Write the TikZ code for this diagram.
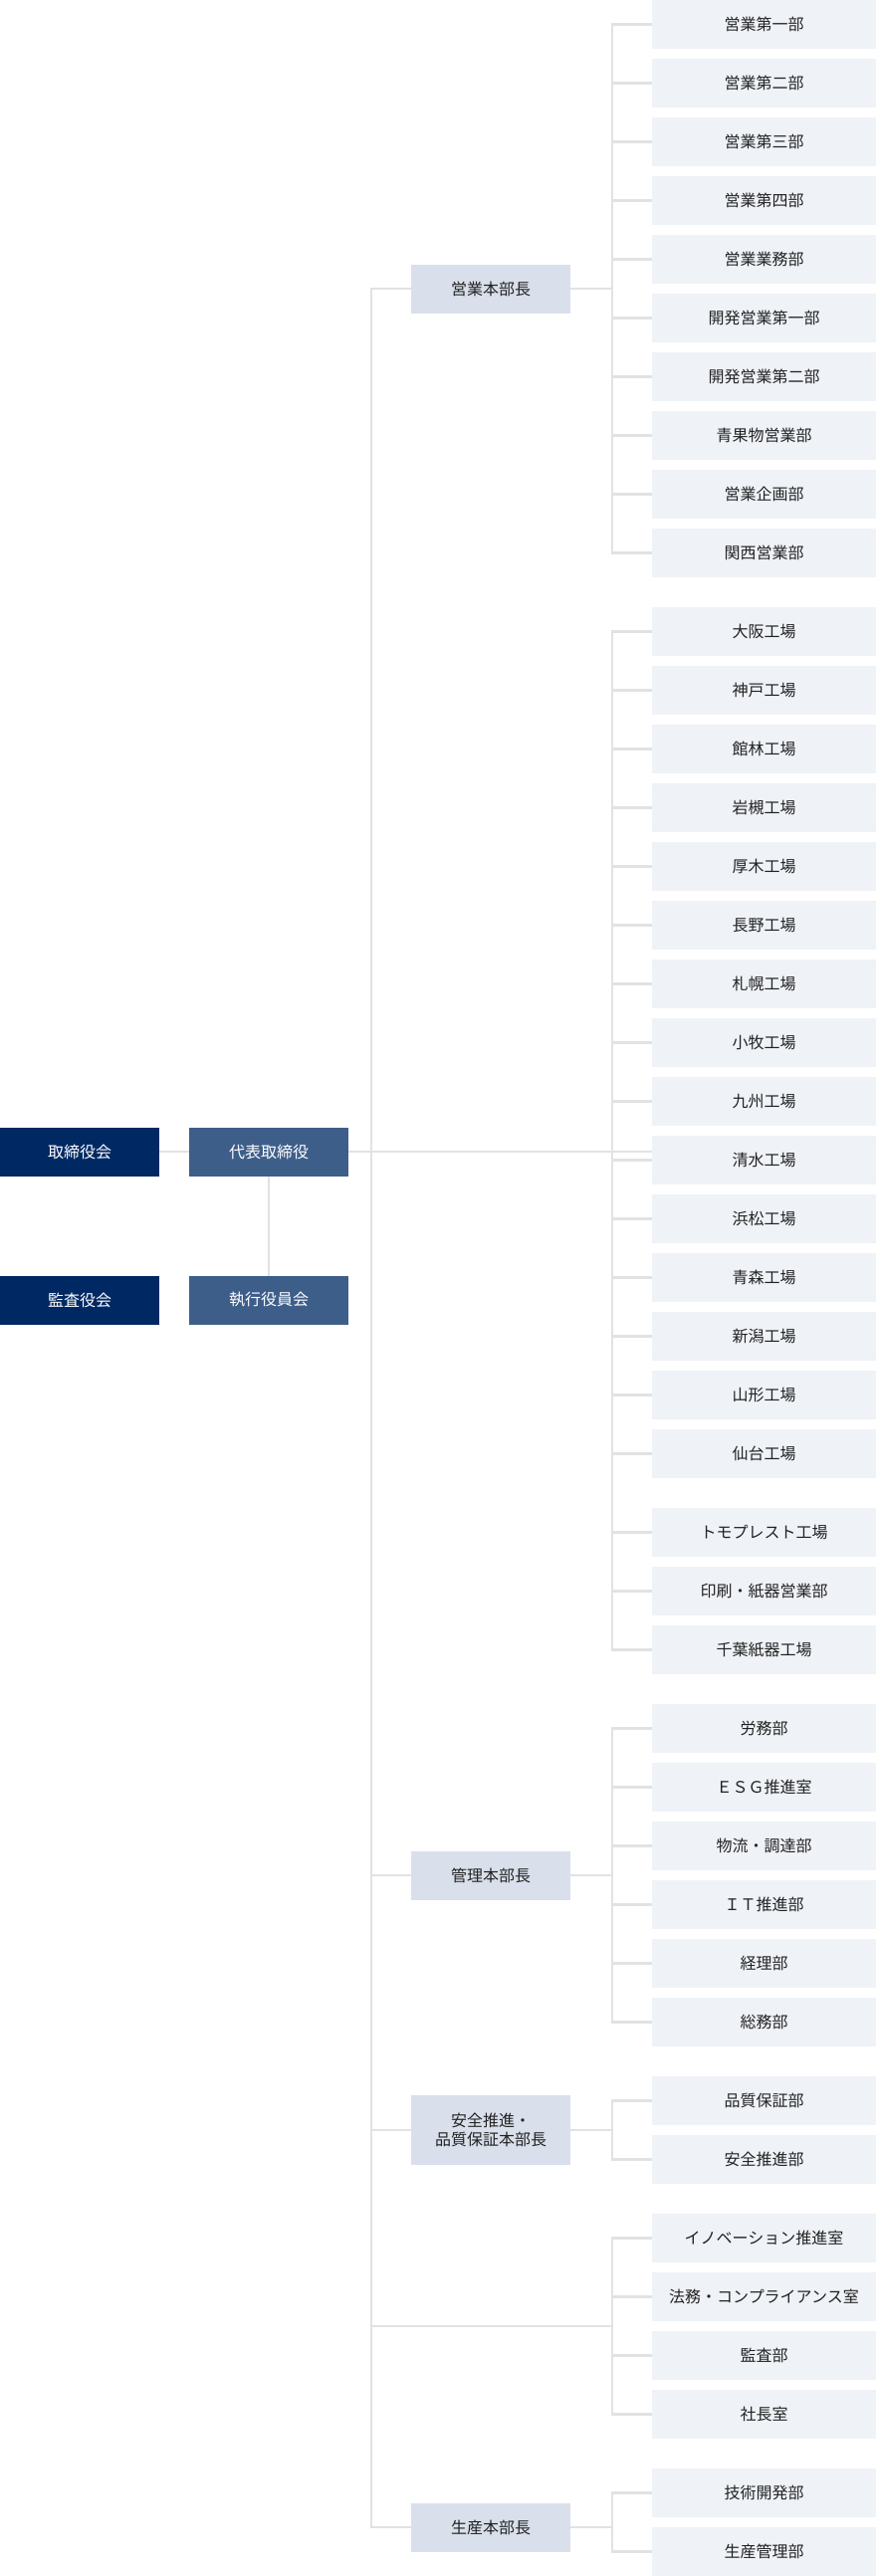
\documentclass[tikz,border=0pt]{standalone}
\usepackage{fontspec}
\setmainfont{Noto Sans CJK JP}
\usepackage{xcolor}
\usetikzlibrary{backgrounds}
\definecolor{navy}{HTML}{002963}
\definecolor{midblue}{HTML}{3E5E8A}
\definecolor{headfill}{HTML}{D9E0EB}
\definecolor{deptfill}{HTML}{EFF2F7}
\definecolor{linegray}{HTML}{E2E2E2}
\definecolor{txt}{HTML}{222222}

\tikzset{
  conn/.style={draw=linegray, line width=2.4pt, line cap=rect},
  boxbase/.style={inner sep=0pt, align=center, font=\fontsize{16}{19.5}\selectfont},
  topbox/.style={boxbase, fill=navy, text=white, minimum width=160pt, minimum height=49pt},
  execbox/.style={boxbase, fill=midblue, text=white, minimum width=160pt, minimum height=49pt},
  headbox/.style={boxbase, fill=headfill, text=txt, minimum width=160pt, minimum height=49pt},
  deptbox/.style={boxbase, fill=deptfill, text=txt, minimum width=225pt, minimum height=49pt},
}

\begin{document}
\begin{tikzpicture}[x=1pt, y=-1pt]
      \useasboundingbox (0,0) rectangle (880,2588);

      % Board and executives
      \node[topbox] (torishimari) at (80,1157) {取締役会};
      \node[topbox] (kansa) at (80,1306) {監査役会};
      \node[execbox] (daihyo) at (270,1157) {代表取締役};
      \node[execbox] (shikko) at (270,1306) {執行役員会};

      % Division heads
      \node[headbox] (eigyo) at (493,290) {営業本部長};
      \node[headbox] (kanri) at (493,1884) {管理本部長};
      \node[headbox, minimum height=70pt] (anzen) at (493,2140) {安全推進・\\品質保証本部長};
      \node[headbox] (seisan) at (493,2539) {生産本部長};

      % Departments (\g = number of group gaps above)
      \foreach \dept/\g [count=\k from 0] in {
          営業第一部/0, 営業第二部/0, 営業第三部/0, 営業第四部/0, 営業業務部/0,
          開発営業第一部/0, 開発営業第二部/0, 青果物営業部/0, 営業企画部/0, 関西営業部/0,
          大阪工場/1, 神戸工場/1, 館林工場/1, 岩槻工場/1, 厚木工場/1,
          長野工場/1, 札幌工場/1, 小牧工場/1, 九州工場/1, 清水工場/1,
          浜松工場/1, 青森工場/1, 新潟工場/1, 山形工場/1, 仙台工場/1,
          トモプレスト工場/2, 印刷・紙器営業部/2, 千葉紙器工場/2,
          労務部/3, ＥＳＧ推進室/3, 物流・調達部/3, ＩＴ推進部/3, 経理部/3, 総務部/3,
          品質保証部/4, 安全推進部/4,
          イノベーション推進室/5, 法務・コンプライアンス室/5, 監査部/5, 社長室/5,
          技術開発部/6, 生産管理部/6}
        \node[deptbox] (dept\k) at (767.5, 59*\k+20*\g+24.5) {\dept};

      \coordinate (trunk) at (373,0);
      \coordinate (bus) at (615,0);
      \coordinate (staff) at (373,2337);

      \begin{scope}[on background layer]
        \fill[white] (0,0) rectangle (880,2588);

        % Main trunk
        \draw[conn] (eigyo.west) -- (eigyo.west -| trunk) -- (seisan.west -| trunk) -- (seisan.west);
        \draw[conn] (kanri.west) -- (kanri.west -| trunk);
        \draw[conn] (anzen.west) -- (anzen.west -| trunk);
        \draw[conn] (staff) -- (staff -| bus);

        % Board lines
        \draw[conn] (torishimari) -- (daihyo);
        \draw[conn] (daihyo) -- (shikko);
        \draw[conn] (daihyo.east) -- (daihyo.east -| dept19.west);

        % Heads to buses
        \foreach \h in {eigyo,kanri,anzen,seisan}
          \draw[conn] (\h.east) -- (\h.east -| bus);

        % Buses
        \foreach \a/\b in {0/9,10/27,28/33,34/35,36/39,40/41}
          \draw[conn] (dept\a.west -| bus) -- (dept\b.west -| bus);

        % Stubs
        \foreach \k in {0,...,41}
          \draw[conn] (dept\k.west) -- (dept\k.west -| bus);
      \end{scope}
    \end{tikzpicture}
\end{document}
